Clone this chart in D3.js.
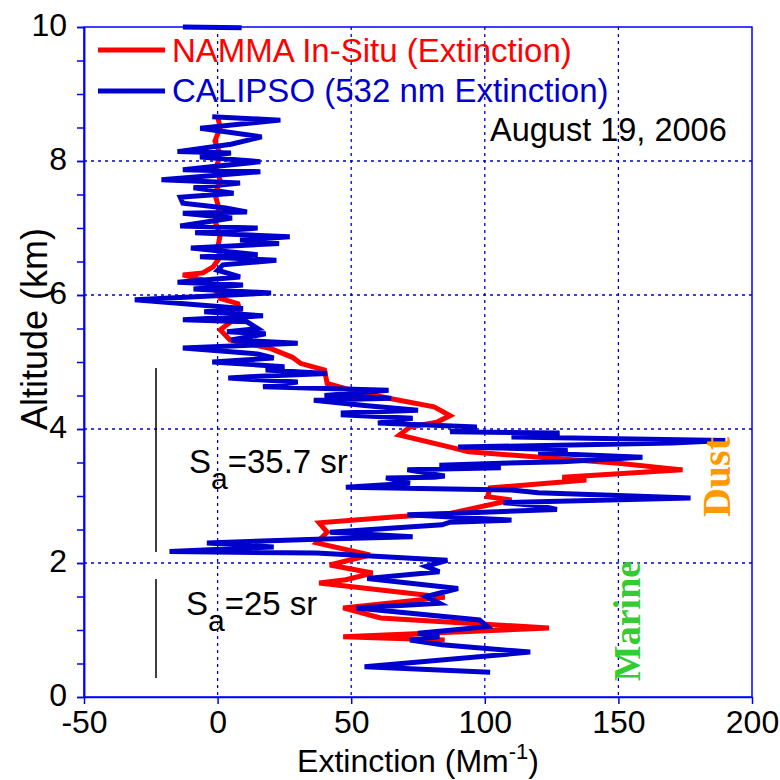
<!DOCTYPE html>
<html><head><meta charset="utf-8">
<script src="https://cdn.jsdelivr.net/npm/d3@7"></script>
<style>body{margin:0;background:#fff}svg{display:block}</style>
</head><body>
<svg id="c" width="780" height="780" font-family="Liberation Sans, Arial, sans-serif"></svg>
<script>
// NAMMA in-situ extinction profile (altitude km, extinction Mm-1)
const namAlt = [8.66,8.5,8.3,8.1,7.9,7.7,7.5,7.3,7.1,6.9,6.7,6.57,6.42,6.33,6.3,6.2,6.03,5.95,5.87,5.75,5.63,5.48,5.33,5.2,5.07,4.98,4.88,4.68,4.58,4.46,4.33,4.2,4.1,4.03,3.91,3.73,3.66,3.49,3.39,3.28,3.24,3.12,2.99,2.94,2.74,2.69,2.6,2.46,2.3,2.12,1.97,1.85,1.75,1.7,1.49,1.33,1.18,1.03,0.9,0.85];
const namExt = [0,1,-1,1,-0.5,1,-1,0.5,-1,1,0,1,-1.7,-5.5,-13,-3,0,1,7.6,8.4,6,1,4.6,20,28,31,40,41,50,64,81,87,82,72,68,87,94,150,174,129,138,102,101,110,87,67,38,41,37,57,42,58,48,38,85,47,61,124,47,85];
// CALIPSO 532 nm extinction profile
const calAlt = [10.0,9.99,null,8.66,8.61,8.49,8.36,8.25,8.14,8.12,8.06,7.99,7.87,7.84,7.72,7.67,7.6,7.52,7.46,7.37,7.3,7.24,7.22,7.15,7.03,7.0,6.93,6.87,6.82,6.77,6.7,6.6,6.57,6.52,6.45,6.37,6.27,6.19,6.15,6.09,6.03,5.93,5.8,5.75,5.69,5.63,5.6,5.5,5.45,5.42,5.33,5.28,5.21,5.12,5.06,5.0,4.93,4.88,4.83,4.78,4.76,4.7,4.63,4.58,4.5,4.46,4.43,4.35,4.28,4.24,4.21,4.16,4.09,4.03,3.96,3.94,3.88,3.83,3.79,3.73,3.69,3.64,3.58,3.51,3.49,3.46,3.42,3.39,3.3,3.28,3.27,3.19,3.13,3.09,3.05,2.97,2.9,2.85,2.8,2.74,2.72,2.64,2.61,2.57,2.46,2.39,2.36,2.3,2.24,2.17,2.15,2.04,1.95,1.87,1.77,1.62,1.5,1.4,1.33,1.15,1.05,0.95,0.9,0.85,0.78,0.67,0.45,0.37];
const calExt = [-13,9,null,-2,23.5,-6.5,16.5,5,-15,5,-6.6,16,-13,16,-21,8.4,-9,6,-14,-13,3,11,-13,5.4,-14,15,-8.4,27,8.4,23,-10,15,-6.6,22,2,0,8.4,-15,9.5,-9,20,-31,9.5,-5,17,-13,11,15,3.5,18,5,30,-13,15,21,-2,25,18,41,12,4,30,17,64,40,65,36,55,75,47,47,73,60,97,87,128,110,190,170,90,131,120,159,129,106,83,106,71,85,81,63,72,48,110,120,177,107,121,127,87,71,110,87,84,42,73,40,-4,21,-18,37,86,78,83,56,90,78,83,52,98,101,75,83,72,84,117,55,102];
const xTicks = [-50,0,50,100,150,200];
const yTicks = [0,2,4,6,8,10];
const xGrid = [0,50,100,150];
const yGrid = [2,4,6,8];
const yMinor = d3.range(0,10.01,0.5);
const seriesNames = ["NAMMA In-Situ (Extinction)","CALIPSO (532 nm Extinction)"];
const seriesColors = ["#ff0000","#0000cc"];

const svg = d3.select("#c");
const L=84,R=752,T=27,B=697;
const x = d3.scaleLinear().domain([-50,200]).range([L,R]);
const y = d3.scaleLinear().domain([0,10]).range([B,T]);
const axisBlue = "#0000ff";
const SANS = "Liberation Sans, Arial, sans-serif";
const SERIF = "Liberation Serif, Times New Roman, serif";

// grid
const g = svg.append("g");
g.selectAll(".gx").data(xGrid).join("line").attr("x1",d=>x(d)).attr("x2",d=>x(d)).attr("y1",T).attr("y2",B)
 .attr("stroke","#0000cc").attr("stroke-width",1.3).attr("stroke-dasharray","3,4");
g.selectAll(".gy").data(yGrid).join("line").attr("y1",d=>y(d)).attr("y2",d=>y(d)).attr("x1",L).attr("x2",R)
 .attr("stroke","#0000cc").attr("stroke-width",1.3).attr("stroke-dasharray","3,4");

// data lines
const mk = (alt,ext)=>alt.map((a,i)=>({a:a,e:ext[i]}));
const line = d3.line().defined(d=>d.a!==null && d.e!==null).x(d=>x(d.e)).y(d=>y(d.a));
svg.append("path").datum(mk(namAlt,namExt)).attr("d",line).attr("fill","none")
 .attr("stroke",seriesColors[0]).attr("stroke-width",5);
svg.append("path").datum(mk(calAlt,calExt)).attr("d",line).attr("fill","none")
 .attr("stroke",seriesColors[1]).attr("stroke-width",5);

// frame
svg.append("rect").attr("x",L).attr("y",T).attr("width",R-L).attr("height",B-T)
 .attr("fill","none").attr("stroke",axisBlue).attr("stroke-width",1.5);

// axes
const ax = svg.append("g").attr("transform",`translate(0,${B})`)
 .call(d3.axisBottom(x).tickValues(xTicks).tickSize(7).tickSizeOuter(0).tickPadding(6).tickFormat(d=>String(d)));
ax.select(".domain").attr("stroke",axisBlue).attr("stroke-width",1.5);
ax.selectAll(".tick line").attr("stroke",axisBlue).attr("stroke-width",1.5);
ax.selectAll(".tick text").attr("font-size",32).attr("fill","#000").attr("font-family",SANS);

const ayMinor = svg.append("g").attr("transform",`translate(${L},0)`)
 .call(d3.axisLeft(y).tickValues(yMinor).tickSize(7).tickSizeOuter(0).tickFormat(""));
ayMinor.select(".domain").attr("stroke",axisBlue).attr("stroke-width",1.5);
ayMinor.selectAll(".tick line").attr("stroke",axisBlue).attr("stroke-width",1.5);

const ay = svg.append("g").attr("transform",`translate(${L},0)`)
 .call(d3.axisLeft(y).tickValues(yTicks).tickSize(7).tickSizeOuter(0).tickPadding(10).tickFormat(d=>String(d)));
ay.select(".domain").attr("stroke",axisBlue).attr("stroke-width",1.5);
ay.selectAll(".tick line").attr("stroke",axisBlue).attr("stroke-width",1.5);
ay.selectAll(".tick text").attr("font-size",32).attr("fill","#000").attr("font-family",SANS).attr("dy","0.28em");

// axis titles
const xt = svg.append("text").attr("x",418).attr("y",772).attr("text-anchor","middle").attr("font-size",32).attr("fill","#000");
xt.append("tspan").text("Extinction (Mm");
xt.append("tspan").attr("dy",-13).attr("font-size",22).text("-1");
xt.append("tspan").attr("dy",13).text(")");
svg.append("text").attr("transform","translate(47,329) rotate(-90)").attr("text-anchor","middle")
 .attr("font-size",36).attr("fill","#000").text("Altitude (km)");

// legend
const leg = [[50,62],[91,102]];
seriesNames.forEach((n,i)=>{
  svg.append("line").attr("x1",98).attr("x2",165).attr("y1",leg[i][0]).attr("y2",leg[i][0])
   .attr("stroke",seriesColors[i]).attr("stroke-width",5);
  svg.append("text").attr("x",172).attr("y",leg[i][1]).attr("font-size",33).attr("fill",seriesColors[i]).text(n);
});
svg.append("text").attr("x",490).attr("y",141).attr("font-size",32.5).attr("fill","#000").text("August 19, 2006");

// lidar ratio annotations
[[368,552],[579,678]].forEach(s=>svg.append("line").attr("x1",156).attr("x2",156).attr("y1",s[0]).attr("y2",s[1]).attr("stroke","#000").attr("stroke-width",1.5));
const s1 = svg.append("text").attr("x",189).attr("y",473).attr("font-size",33).attr("fill","#000");
s1.append("tspan").text("S"); s1.append("tspan").attr("dy",16).attr("font-size",30).text("a"); s1.append("tspan").attr("dy",-16).text("=35.7 sr");
const s2 = svg.append("text").attr("x",186).attr("y",615).attr("font-size",33).attr("fill","#000");
s2.append("tspan").text("S"); s2.append("tspan").attr("dy",16).attr("font-size",30).text("a"); s2.append("tspan").attr("dy",-16).text("=25 sr");

svg.append("text").attr("transform","translate(730,477) rotate(-90)").attr("text-anchor","middle")
 .attr("font-family",SERIF).attr("font-weight","bold").attr("font-size",40).attr("fill","#ff9900").text("Dust");
svg.append("text").attr("transform","translate(640,621) rotate(-90)").attr("text-anchor","middle")
 .attr("font-family",SERIF).attr("font-weight","bold").attr("font-size",38).attr("fill","#33cc33").text("Marine");
</script>
</body></html>
